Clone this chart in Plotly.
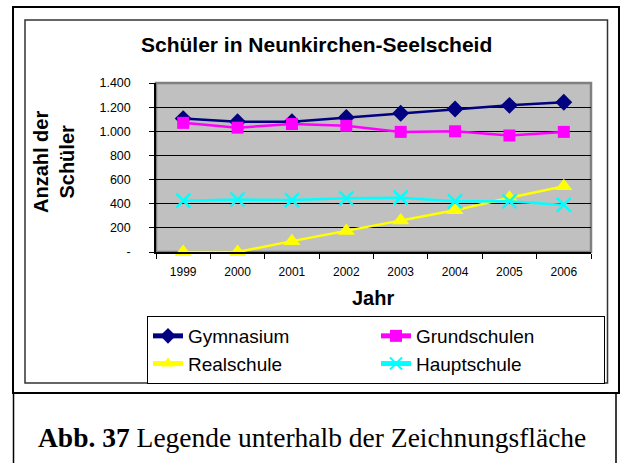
import plotly.graph_objects as go

# ---- data ----
years = ["1999", "2000", "2001", "2002", "2003", "2004", "2005", "2006"]
gymnasium = [1105, 1080, 1080, 1115, 1150, 1185, 1215, 1240]
grundschulen = [1070, 1030, 1060, 1045, 995, 1000, 965, 995]
realschule = [0, 0, 90, 175, 260, 345, 450, 545]
hauptschule = [425, 435, 430, 445, 450, 420, 420, 390]

y_tickvals = [0, 200, 400, 600, 800, 1000, 1200, 1400]
y_ticktext = ["-", "200", "400", "600", "800", "1.000", "1.200", "1.400"]

W, H = 620, 463
PL, PR, PT, PB = 156, 591, 83, 252   # plot area in pixels


def px(x):
    return (x - PL) / (PR - PL)


def py(y):
    return (PB - y) / (PB - PT)


SANS = "Liberation Sans, Arial, sans-serif"
SERIF = "Liberation Serif, Times New Roman, serif"

series = [
    ("Gymnasium", gymnasium, "#000080", "diamond", 13),
    ("Grundschulen", grundschulen, "#FF00FF", "square", 12),
    ("Realschule", realschule, "#FFFF00", "triangle-up", 15),
    ("Hauptschule", hauptschule, "#00FFFF", "x-thin-open", 14),
]

fig = go.Figure()
for name, vals, col, sym, size in series:
    marker = dict(symbol=sym, size=size, color=col)
    if sym == "x-thin-open":
        marker["line"] = dict(color=col, width=2.5)
    fig.add_trace(go.Scatter(x=years, y=vals, name=name, mode="lines+markers",
                             line=dict(color=col, width=2.5), marker=marker,
                             cliponaxis=False))

shapes = [
    # outer frame
    dict(type="rect", xref="paper", yref="paper", x0=px(13), x1=px(619), y0=py(393), y1=py(7),
         line=dict(color="black", width=2), layer="below"),
    # chart area frame
    dict(type="rect", xref="paper", yref="paper", x0=px(25), x1=px(607.5), y0=py(383), y1=py(20),
         line=dict(color="#333333", width=1.5), layer="below"),
    # caption box
    dict(type="rect", xref="paper", yref="paper", x0=px(13.5), x1=px(616), y0=py(480), y1=py(393),
         line=dict(color="black", width=1.5), layer="below"),
    # plot area border
    dict(type="rect", xref="paper", yref="paper", x0=0, x1=1, y0=0, y1=1,
         line=dict(color="#808080", width=2.5), layer="below"),
]

annotations = [
    dict(text="<b>Schüler in Neunkirchen-Seelscheid</b>", xref="paper", yref="paper",
         x=px(316), y=py(45), xanchor="center", yanchor="middle", showarrow=False,
         font=dict(size=21, family=SANS, color="black")),
    dict(text="<b>Jahr</b>", xref="paper", yref="paper", x=px(373), y=py(298),
         xanchor="center", yanchor="middle", showarrow=False,
         font=dict(size=20, family=SANS, color="black")),
    dict(text="<b>Anzahl der<br>Schüler</b>", xref="paper", yref="paper", x=px(54), y=py(162),
         xanchor="center", yanchor="middle", textangle=-90, showarrow=False,
         font=dict(size=20, family=SANS, color="black")),
    dict(text="<b>Abb. 37</b> Legende unterhalb der Zeichnungsfläche", xref="paper", yref="paper",
         x=px(36), y=py(437), xanchor="left", yanchor="middle", showarrow=False,
         font=dict(size=27.5, family=SERIF, color="black")),
]

fig.update_layout(
    width=W, height=H,
    margin=dict(l=PL, r=W - PR, t=PT, b=H - PB),
    paper_bgcolor="white", plot_bgcolor="#C0C0C0",
    font=dict(family=SANS, color="black"),
    shapes=shapes, annotations=annotations,
    showlegend=True,
    legend=dict(orientation="h", x=px(147), y=py(316), xanchor="left", yanchor="top",
                entrywidth=183, entrywidthmode="pixels",
                bgcolor="white", bordercolor="black", borderwidth=1,
                font=dict(size=19, family=SANS), itemsizing="constant"),
)
fig.update_xaxes(type="category", range=[-0.5, 7.5], tickson="boundaries",
                 ticks="outside", ticklen=5, tickcolor="black", ticklabelstandoff=8,
                 showline=True, linecolor="black", linewidth=1.5,
                 showgrid=False, tickfont=dict(size=12), fixedrange=True)
fig.update_yaxes(range=[0, 1400], tickvals=y_tickvals, ticktext=y_ticktext,
                 ticks="outside", ticklen=5, tickcolor="black", ticklabelstandoff=16,
                 showline=True, linecolor="black", linewidth=1.5,
                 showgrid=True, gridcolor="black", gridwidth=1,
                 zeroline=False, tickfont=dict(size=12.5), fixedrange=True)

fig.write_html("out.html", config={"displayModeBar": False},
               post_script="document.body.style.margin='0';")
